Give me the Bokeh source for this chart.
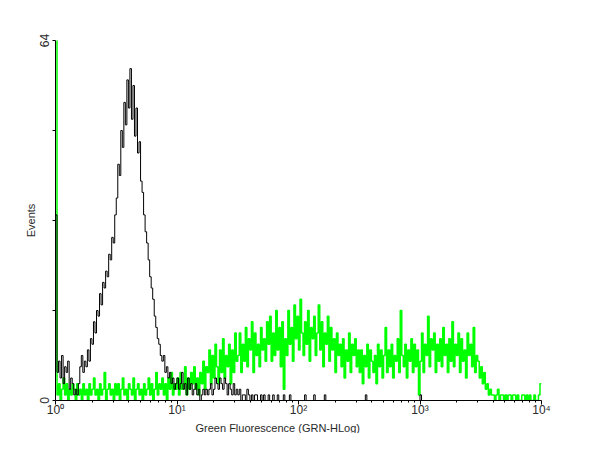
from bokeh.plotting import figure
from bokeh.models import FixedTicker, Range1d, Title
from bokeh.embed import file_html
from bokeh.resources import INLINE

# Histogram channels: 320 bins, 0.0125 decade each, from 10^0 to 10^4
bin_step_decades = 0.0125

control_counts = [
    33, 5, 7, 4, 8, 3, 6, 5, 7, 2, 4, 3, 1, 2, 1, 3, 6, 8, 5, 7,
    6, 9, 7, 11, 10, 14, 12, 16, 15, 19, 17, 21, 20, 23, 22, 26, 25, 29, 28, 33,
    36, 42, 40, 48, 45, 53, 49, 57, 52, 59, 50, 56, 47, 52, 44, 46, 39, 37, 33, 30,
    28, 25, 22, 20, 18, 15, 13, 11, 10, 8, 7, 8, 5, 6, 4, 5, 3, 4, 2, 3,
    4, 2, 3, 5, 2, 3, 1, 4, 2, 3, 1, 2, 3, 1, 2, 0, 1, 2, 1, 2,
    1, 2, 3, 1, 2, 4, 3, 2, 4, 3, 2, 4, 3, 1, 3, 2, 1, 3, 1, 2,
    1, 2, 0, 1, 1, 0, 2, 1, 0, 1, 0, 1, 1, 0, 0, 1, 0, 1, 0, 0,
    1, 0, 0, 1, 0, 0, 1, 0, 0, 0, 1, 0, 0, 0, 1, 0, 0, 0, 0, 0,
    0, 0, 0, 0, 1, 0, 0, 0, 0, 0, 1, 0, 0, 0, 0, 0, 0, 1, 0, 0,
    0, 0, 0, 0, 0, 0, 0, 0, 0, 0, 0, 0, 0, 0, 0, 0, 0, 0, 0, 0,
    0, 0, 0, 0, 1, 0, 0, 0, 0, 0, 0, 0, 0, 0, 0, 0, 0, 0, 0, 0,
    0, 0, 0, 0, 0, 0, 0, 0, 0, 0, 0, 0, 0, 0, 0, 0, 0, 0, 0, 0,
    1, 0, 0, 0, 0, 0, 0, 0, 0, 0, 0, 0, 0, 0, 0, 0, 0, 0, 0, 0,
    0, 0, 0, 0, 0, 0, 0, 0, 0, 0, 0, 0, 0, 0, 0, 0, 0, 0, 0, 0,
    0, 0, 0, 0, 0, 0, 0, 0, 0, 0, 0, 0, 0, 0, 0, 0, 0, 0, 0, 0,
    0, 0, 0, 0, 0, 0, 0, 0, 0, 0, 0, 0, 0, 0, 0, 0, 0, 0, 0, 0,
]

stained_counts = [
    70, 1, 3, 0, 2, 4, 1, 3, 0, 2, 1, 3, 2, 0, 3, 1, 2, 0, 3, 1,
    2, 0, 3, 1, 2, 4, 1, 2, 0, 3, 1, 2, 5, 0, 2, 3, 1, 2, 0, 3,
    1, 3, 0, 2, 4, 1, 2, 0, 3, 2, 1, 4, 0, 2, 3, 1, 2, 0, 3, 1,
    2, 4, 1, 3, 0, 2, 5, 1, 3, 2, 4, 1, 3, 0, 4, 2, 5, 1, 3, 2,
    4, 1, 5, 2, 3, 6, 1, 4, 2, 5, 3, 6, 2, 4, 1, 5, 3, 7, 2, 6,
    5, 9, 3, 8, 4, 10, 6, 3, 9, 5, 11, 4, 8, 6, 10, 3, 9, 5, 12, 7,
    8, 12, 5, 10, 7, 13, 6, 11, 9, 14, 5, 12, 8, 10, 6, 13, 9, 11, 7, 14,
    10, 15, 7, 12, 8, 16, 9, 13, 6, 14, 2, 11, 8, 16, 10, 13, 7, 17, 11, 15,
    9, 18, 12, 8, 14, 10, 16, 7, 13, 11, 15, 8, 12, 17, 9, 14, 6, 12, 10, 15,
    7, 13, 9, 11, 5, 12, 8, 10, 6, 11, 4, 9, 7, 12, 5, 10, 8, 11, 6, 9,
    5, 9, 3, 8, 6, 10, 4, 9, 7, 5, 8, 3, 10, 6, 9, 4, 8, 13, 5, 9,
    6, 10, 4, 8, 7, 11, 5, 16, 8, 6, 10, 4, 9, 7, 11, 5, 10, 6, 9, 1,
    7, 12, 5, 10, 8, 15, 6, 11, 9, 12, 5, 10, 7, 11, 6, 13, 8, 10, 5, 11,
    7, 14, 6, 10, 8, 12, 5, 11, 7, 9, 4, 12, 8, 10, 6, 13, 5, 8, 7, 4,
    6, 3, 5, 2, 3, 1, 2, 1, 1, 0, 1, 2, 0, 1, 1, 0, 1, 0, 1, 1,
    0, 1, 1, 0, 1, 0, 0, 1, 1, 0, 1, 0, 1, 0, 0, 1, 0, 0, 1, 3,
]

x_ticks = [1, 10, 100, 1000, 10000]
x_tick_labels = ["10\u2070", "10\u00b9", "10\u00b2", "10\u00b3", "10\u2074"]
y_ticks = [0, 16, 32, 48, 64]
y_tick_labels = ["0", "", "", "", "64"]
x_title = "Green Fluorescence (GRN-HLog)"
y_title = "Events"

n_bins = len(control_counts)
edges = [10 ** (i * bin_step_decades) for i in range(n_bins + 1)]
ctrl_y = control_counts + [control_counts[-1]]
stain_y = stained_counts + [stained_counts[-1]]

FONT = "Liberation Sans"
TEXT_COLOR = "#2a2a2a"

p = figure(
    x_axis_type="log",
    x_range=Range1d(1, 10000),
    y_range=Range1d(0, 64),
    frame_width=486,
    frame_height=360,
    min_border_left=55,
    min_border_right=55,
    min_border_top=40,
    min_border_bottom=10,
    output_backend="svg",
    toolbar_location=None,
    tools="",
)
p.outline_line_color = None
p.xgrid.visible = False
p.ygrid.visible = False
p.background_fill_color = "white"
p.border_fill_color = "white"

p.step(edges, stain_y, mode="after", line_color="#00ff00", line_width=1.5)
p.step(edges, ctrl_y, mode="after", line_color="black", line_width=1)

minor = [m * d for d in [1, 10, 100, 1000] for m in range(2, 10)]
p.xaxis.ticker = FixedTicker(ticks=x_ticks, minor_ticks=minor)
p.xaxis.major_label_overrides = {t: l for t, l in zip(x_ticks, x_tick_labels)}
p.yaxis.ticker = FixedTicker(ticks=y_ticks, minor_ticks=[])
p.yaxis.major_label_overrides = {t: l for t, l in zip(y_ticks, y_tick_labels)}
p.yaxis.major_label_orientation = "vertical"

p.yaxis.axis_label = y_title

for ax in (p.xaxis, p.yaxis):
    ax.axis_line_color = "black"
    ax.axis_line_width = 1
    ax.major_tick_line_color = "black"
    ax.minor_tick_line_color = "black"
    ax.major_tick_in = 0
    ax.minor_tick_in = 0
    ax.major_label_text_font = FONT
    ax.major_label_text_font_size = "12px"
    ax.major_label_text_color = TEXT_COLOR
    ax.axis_label_text_font = FONT
    ax.axis_label_text_font_size = "11px"
    ax.axis_label_text_font_style = "normal"
    ax.axis_label_text_color = TEXT_COLOR

p.xaxis.major_tick_out = 4
p.xaxis.minor_tick_out = 2
p.xaxis.major_label_standoff = -2
p.yaxis.major_tick_out = 3
p.yaxis.major_label_standoff = 4
p.yaxis.axis_label_standoff = 0

p.add_layout(
    Title(
        text=x_title,
        align="left",
        offset=140,
        standoff=0,
        text_font=FONT,
        text_font_size="11px",
        text_font_style="normal",
        text_color=TEXT_COLOR,
    ),
    "below",
)

open("out.html", "w").write(file_html(p, INLINE))
